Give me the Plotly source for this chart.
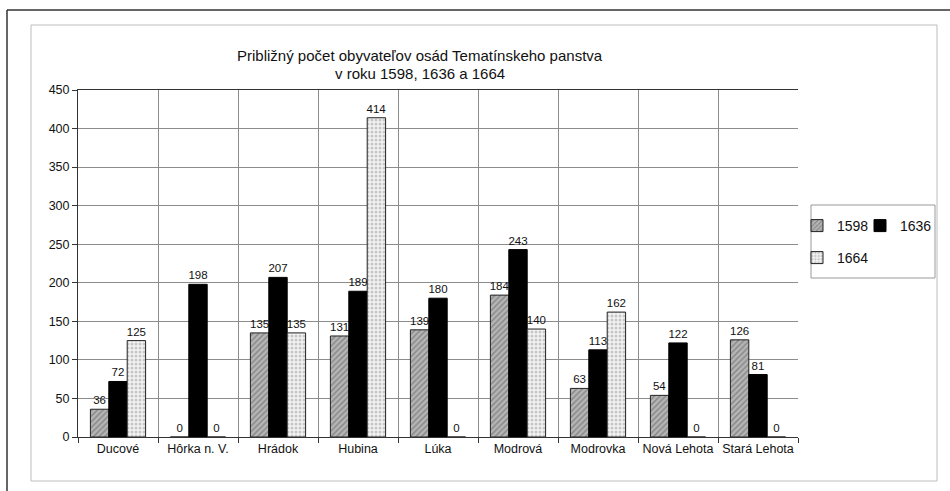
import plotly.graph_objects as go

villages = ["Ducové", "Hôrka n. V.", "Hrádok", "Hubina", "Lúka",
            "Modrová", "Modrovka", "Nová Lehota", "Stará Lehota"]
pop_1598 = [36, 0, 135, 131, 139, 184, 63, 54, 126]
pop_1636 = [72, 198, 207, 189, 180, 243, 113, 122, 81]
pop_1664 = [125, 0, 135, 414, 0, 140, 162, 0, 0]
y_ticks = [0, 50, 100, 150, 200, 250, 300, 350, 400, 450]
title_lines = ["Približný počet obyvateľov osád Tematínskeho panstva",
               "v roku 1598, 1636 a 1664"]

W, H = 950, 491
L, R, T, B = 78, 152, 90, 54
PW, PH = W - L - R, H - T - B

FONT = "Liberation Sans, Arial, sans-serif"


def px_x(p):
    return (p - L) / PW


def px_y(p):
    return (H - B - p) / PH


fig = go.Figure()
fig.add_bar(
    name="1598", x=villages, y=pop_1598, legend="legend",
    marker=dict(color="#9a9a9a", line=dict(color="#222", width=1),
                pattern=dict(shape="/", fgcolor="#555", bgcolor="#b5b5b5",
                             size=4, solidity=0.35)),
    text=pop_1598, textposition="outside",
)
fig.add_bar(
    name="1636", x=villages, y=pop_1636, legend="legend2",
    marker=dict(color="#000", line=dict(color="#000", width=1)),
    text=pop_1636, textposition="outside",
)
fig.add_bar(
    name="1664", x=villages, y=pop_1664, legend="legend3",
    marker=dict(color="#e6e6e6", line=dict(color="#222", width=1),
                pattern=dict(shape=".", fgcolor="#9a9a9a", bgcolor="#f3f3f3",
                             size=4, solidity=0.45)),
    text=pop_1664, textposition="outside",
)

fig.update_traces(textfont=dict(size=11.5, color="#111", family=FONT),
                  cliponaxis=False, constraintext="none")

# outer dark frame (top and left edges) and inner light chart frame
fig.add_shape(type="line", xref="paper", yref="paper",
              x0=px_x(7), x1=px_x(960), y0=px_y(10), y1=px_y(10),
              line=dict(color="#333", width=1.5))
fig.add_shape(type="line", xref="paper", yref="paper",
              x0=px_x(7), x1=px_x(7), y0=px_y(10), y1=px_y(500),
              line=dict(color="#333", width=1.5))
fig.add_shape(type="rect", xref="paper", yref="paper",
              x0=px_x(31), x1=px_x(937), y0=px_y(25), y1=px_y(481),
              line=dict(color="#bdbdbd", width=1))
# legend box
fig.add_shape(type="rect", xref="paper", yref="paper",
              x0=px_x(811), x1=px_x(935), y0=px_y(205), y1=px_y(278),
              line=dict(color="#999", width=1))

# two-line chart title
for line, ypx in zip(title_lines, [55, 73]):
    fig.add_annotation(text=line, xref="paper", yref="paper",
                       x=px_x(420), y=px_y(ypx), xanchor="center",
                       yanchor="middle", showarrow=False,
                       font=dict(size=15, family=FONT, color="#111"))

legend_common = dict(orientation="v", xanchor="left", yanchor="middle",
                     borderwidth=0, bgcolor="rgba(0,0,0,0)",
                     font=dict(size=14, family=FONT, color="#111"),
                     itemwidth=30, tracegroupgap=0)

fig.update_layout(
    width=W, height=H,
    margin=dict(l=L, r=R, t=T, b=B, autoexpand=False),
    paper_bgcolor="white", plot_bgcolor="white",
    font=dict(family=FONT, color="#111", size=11),
    barmode="group", bargap=0.31, bargroupgap=0,
    showlegend=True,
    legend=dict(x=px_x(797), y=px_y(226), **legend_common),
    legend2=dict(x=px_x(860), y=px_y(226), **legend_common),
    legend3=dict(x=px_x(797), y=px_y(258), **legend_common),
    xaxis=dict(type="category", tickson="boundaries", ticks="outside",
               ticklen=5, tickcolor="#333", showgrid=True, gridcolor="#8c8c8c",
               gridwidth=1, showline=True, linecolor="#333", linewidth=1,
               mirror=True, tickangle=0,
               tickfont=dict(size=12.5, family=FONT, color="#111")),
    yaxis=dict(range=[0, 450], tickvals=y_ticks, ticks="outside", ticklen=5,
               tickcolor="#333", showgrid=True, gridcolor="#8c8c8c",
               gridwidth=1, showline=True, linecolor="#333", linewidth=1,
               zeroline=False, tickfont=dict(size=12.5, family=FONT, color="#111")),
)

fig.write_html("out.html")
